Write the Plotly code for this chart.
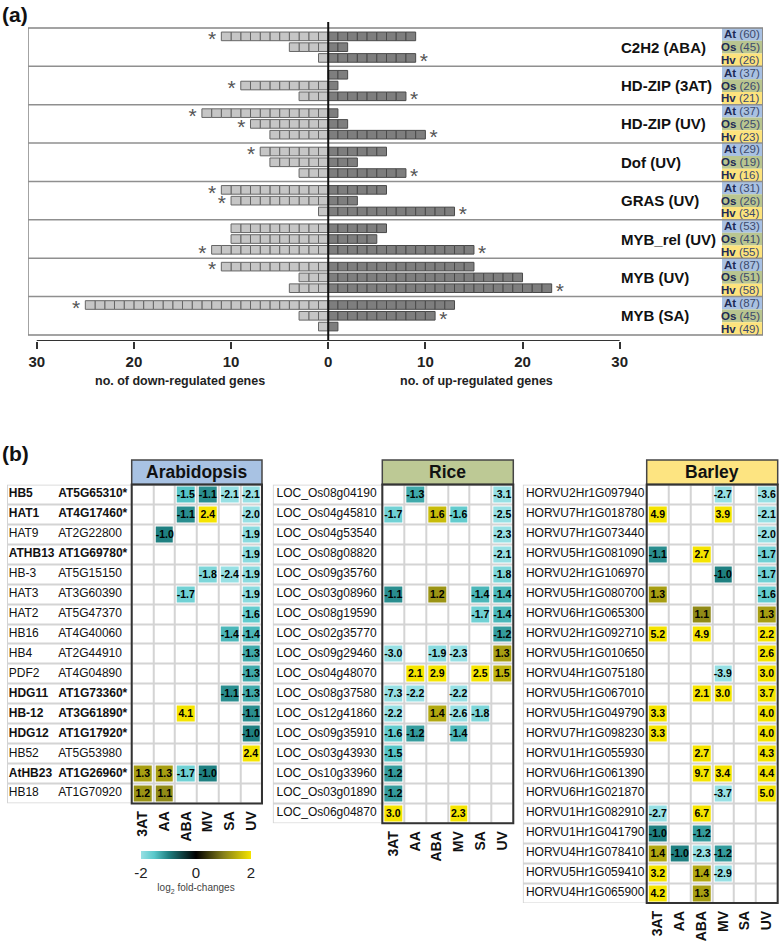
import plotly.graph_objects as go

W, H = 780, 941
SANS = "Liberation Sans, Arial, Helvetica, sans-serif"
NARROW = "Liberation Sans Narrow, Arial Narrow, Liberation Sans, Arial, sans-serif"

# ---------------- panel (a) data ----------------
families = ["C2H2 (ABA)", "HD-ZIP (3AT)", "HD-ZIP (UV)", "Dof (UV)",
            "GRAS (UV)", "MYB_rel (UV)", "MYB (UV)", "MYB (SA)"]
species = ["At", "Os", "Hv"]
species_colors = ["#a9c1e2", "#b9c590", "#fde37d"]

down_at = [11, 0, 13, 7, 11, 10, 11, 25]
down_os = [4, 9, 8, 6, 10, 10, 3, 3]
down_hv = [1, 3, 6, 3, 1, 12, 4, 1]
up_at = [9, 2, 1, 6, 6, 6, 15, 13]
up_os = [2, 1, 2, 3, 3, 5, 20, 11]
up_hv = [9, 8, 10, 8, 13, 15, 23, 1]

down_star_at = [1, 0, 1, 1, 1, 0, 1, 1]
down_star_os = [0, 1, 1, 0, 1, 0, 0, 0]
down_star_hv = [0, 0, 0, 0, 0, 1, 0, 0]
up_star_at = [0, 0, 0, 0, 0, 0, 0, 0]
up_star_os = [0, 0, 0, 0, 0, 0, 0, 1]
up_star_hv = [1, 1, 1, 1, 1, 1, 1, 0]

total_at = [60, 37, 37, 29, 31, 53, 87, 87]
total_os = [45, 26, 25, 19, 26, 41, 51, 45]
total_hv = [26, 21, 23, 16, 34, 55, 58, 49]

axis_ticks = [-30, -20, -10, 0, 10, 20, 30]
axis_tick_labels = ["30", "20", "10", "0", "10", "20", "30"]

# ---------------- panel (b) data ----------------
conditions = ["3AT", "AA", "ABA", "MV", "SA", "UV"]
N = None

at_genes = ["HB5", "HAT1", "HAT9", "ATHB13", "HB-3", "HAT3", "HAT2", "HB16",
            "HB4", "PDF2", "HDG11", "HB-12", "HDG12", "HB52", "AtHB23", "HB18"]
at_loci = ["AT5G65310*", "AT4G17460*", "AT2G22800", "AT1G69780*", "AT5G15150",
           "AT3G60390", "AT5G47370", "AT4G40060", "AT2G44910", "AT4G04890",
           "AT1G73360*", "AT3G61890*", "AT1G17920*", "AT5G53980", "AT1G26960*",
           "AT1G70920"]
at_vals = [
    [N, N, -1.5, -1.1, -2.1, -2.1],
    [N, N, -1.1, 2.4, N, -2.0],
    [N, -1.0, N, N, N, -1.9],
    [N, N, N, N, N, -1.9],
    [N, N, N, -1.8, -2.4, -1.9],
    [N, N, -1.7, N, N, -1.9],
    [N, N, N, N, N, -1.6],
    [N, N, N, N, -1.4, -1.4],
    [N, N, N, N, N, -1.3],
    [N, N, N, N, N, -1.3],
    [N, N, N, N, -1.1, -1.3],
    [N, N, 4.1, N, N, -1.1],
    [N, N, N, N, N, -1.0],
    [N, N, N, N, N, 2.4],
    [1.3, 1.3, -1.7, -1.0, N, N],
    [1.2, 1.1, N, N, N, N],
]

os_loci = ["LOC_Os08g04190", "LOC_Os04g45810", "LOC_Os04g53540", "LOC_Os08g08820",
           "LOC_Os09g35760", "LOC_Os03g08960", "LOC_Os08g19590", "LOC_Os02g35770",
           "LOC_Os09g29460", "LOC_Os04g48070", "LOC_Os08g37580", "LOC_Os12g41860",
           "LOC_Os09g35910", "LOC_Os03g43930", "LOC_Os10g33960", "LOC_Os03g01890",
           "LOC_Os06g04870"]
os_vals = [
    [N, -1.3, N, N, N, -3.1],
    [-1.7, N, 1.6, -1.6, N, -2.5],
    [N, N, N, N, N, -2.3],
    [N, N, N, N, N, -2.1],
    [N, N, N, N, N, -1.8],
    [-1.1, N, 1.2, N, -1.4, -1.4],
    [N, N, N, N, -1.7, -1.4],
    [N, N, N, N, N, -1.2],
    [-3.0, N, -1.9, -2.3, N, 1.3],
    [N, 2.1, 2.9, N, 2.5, 1.5],
    [-7.3, -2.2, N, -2.2, N, N],
    [-2.2, N, 1.4, -2.6, -1.8, N],
    [-1.6, -1.2, N, -1.4, N, N],
    [-1.5, N, N, N, N, N],
    [-1.2, N, N, N, N, N],
    [-1.2, N, N, N, N, N],
    [3.0, N, N, 2.3, N, N],
]

hv_loci = ["HORVU2Hr1G097940", "HORVU7Hr1G018780", "HORVU7Hr1G073440",
           "HORVU5Hr1G081090", "HORVU2Hr1G106970", "HORVU5Hr1G080700",
           "HORVU6Hr1G065300", "HORVU2Hr1G092710", "HORVU5Hr1G010650",
           "HORVU4Hr1G075180", "HORVU5Hr1G067010", "HORVU5Hr1G049790",
           "HORVU7Hr1G098230", "HORVU1Hr1G055930", "HORVU6Hr1G061390",
           "HORVU6Hr1G021870", "HORVU1Hr1G082910", "HORVU1Hr1G041790",
           "HORVU4Hr1G078410", "HORVU5Hr1G059410", "HORVU4Hr1G065900"]
hv_vals = [
    [N, N, N, -2.7, N, -3.6],
    [4.9, N, N, 3.9, N, -2.1],
    [N, N, N, N, N, -2.0],
    [-1.1, N, 2.7, N, N, -1.7],
    [N, N, N, -1.0, N, -1.7],
    [1.3, N, N, N, N, -1.6],
    [N, N, 1.1, N, N, 1.3],
    [5.2, N, 4.9, N, N, 2.2],
    [N, N, N, N, N, 2.6],
    [N, N, N, -3.9, N, 3.0],
    [N, N, 2.1, 3.0, N, 3.7],
    [3.3, N, N, N, N, 4.0],
    [3.3, N, N, N, N, 4.0],
    [N, N, 2.7, N, N, 4.3],
    [N, N, 9.7, 3.4, N, 4.4],
    [N, N, N, -3.7, N, 5.0],
    [-2.7, N, 6.7, N, N, N],
    [-1.0, N, -1.2, N, N, N],
    [1.4, -1.0, -2.3, -1.2, N, N],
    [3.2, N, 1.4, -2.9, N, N],
    [4.2, N, 1.3, N, N, N],
]

colorscale = [[0.0, "#97e0e4"], [0.12, "#58c8ca"], [0.25, "#1f8081"],
              [0.5, "#000000"], [0.75, "#85801a"], [1.0, "#f5e400"]]

# ---------------- helpers ----------------
def dx(a, b):
    return [a / W, b / W]

def dy(top, bottom):
    return [1 - bottom / H, 1 - top / H]

fig = go.Figure()
shapes = []
annotations = []

# ================= panel (a) =================
G = 3.56          # group height in row units
PAD = 0.78
def row_y(i, j):
    return i * G + PAD + j

downs = [down_at, down_os, down_hv]
ups = [up_at, up_os, up_hv]
dstars = [down_star_at, down_star_os, down_star_hv]
ustars = [up_star_at, up_star_os, up_star_hv]
totals = [total_at, total_os, total_hv]

d_base, d_y, u_base, u_y = [], [], [], []
sx, sy = [], []
for i in range(len(families)):
    for j in range(3):
        yy = row_y(i, j)
        for k in range(downs[j][i]):
            d_base.append(-(k + 1)); d_y.append(yy)
        for k in range(ups[j][i]):
            u_base.append(k); u_y.append(yy)
        if dstars[j][i]:
            sx.append(-(downs[j][i] + 0.95)); sy.append(yy + 0.42)
        if ustars[j][i]:
            sx.append(ups[j][i] + 0.85); sy.append(yy + 0.42)

fig.add_trace(go.Bar(orientation="h", x=[1] * len(d_base), base=d_base, y=d_y,
                     width=0.8, marker=dict(color="#c6c6c6", line=dict(color="#666666", width=1)),
                     hoverinfo="skip", xaxis="x", yaxis="y"))
fig.add_trace(go.Bar(orientation="h", x=[1] * len(u_base), base=u_base, y=u_y,
                     width=0.8, marker=dict(color="#7e7e7e", line=dict(color="#4a4a4a", width=1)),
                     hoverinfo="skip", xaxis="x", yaxis="y"))
fig.add_trace(go.Scatter(x=sx, y=sy, mode="text", text=["*"] * len(sx),
                         textfont=dict(family=SANS, size=21, color="#555555"),
                         textposition="middle center", hoverinfo="skip",
                         cliponaxis=False, xaxis="x", yaxis="y"))

XL, XR = -30.9, 44.75
BLOCK_X0 = 40.53
LABEL_X = 29.95
ybot = len(families) * G
y_axis_line = ybot + 0.55
y_top_line = -0.56

shapes.append(dict(type="rect", xref="x", yref="y", x0=XL, x1=XR, y0=0, y1=ybot,
                   line=dict(color="#858585", width=1.5), layer="above"))
for i in range(1, len(families)):
    shapes.append(dict(type="line", xref="x", yref="y", x0=XL, x1=XR, y0=i * G, y1=i * G,
                       line=dict(color="#8f8f8f", width=1.5), layer="above"))
for i in range(len(families)):
    annotations.append(dict(xref="x", yref="y", x=LABEL_X, y=i * G + G / 2,
                            text="<b>%s</b>" % families[i], showarrow=False,
                            xanchor="left", yanchor="middle",
                            font=dict(family=SANS, size=15, color="#111111")))
    for j in range(3):
        y0 = i * G + j * G / 3
        shapes.append(dict(type="rect", xref="x", yref="y", x0=BLOCK_X0, x1=XR,
                           y0=y0, y1=y0 + G / 3, fillcolor=species_colors[j],
                           line=dict(width=0), layer="below"))
        annotations.append(dict(xref="x", yref="y", x=XR - 0.1, y=y0 + G / 6,
                                text="<b><span style='color:#1d2a55'>%s</span></b>"
                                     "<span style='color:#3c4a6c'> (%d)</span>"
                                     % (species[j], totals[j][i]),
                                showarrow=False, xanchor="right", yanchor="middle",
                                font=dict(family=SANS, size=11.5)))
# right edge of label column
shapes.append(dict(type="line", xref="x", yref="y", x0=XR, x1=XR, y0=0, y1=ybot,
                   line=dict(color="#8a8a8a", width=1.5), layer="above"))
# zero line and bottom axis
shapes.append(dict(type="line", xref="x", yref="y", x0=0, x1=0, y0=y_top_line, y1=y_axis_line,
                   line=dict(color="#111111", width=2), layer="above"))
shapes.append(dict(type="line", xref="x", yref="y", x0=axis_ticks[0], x1=axis_ticks[-1],
                   y0=y_axis_line, y1=y_axis_line,
                   line=dict(color="#333333", width=2), layer="above"))

annotations += [
    dict(xref="paper", yref="paper", x=0.0, y=1 - 1 / H, text="<b>(a)</b>", showarrow=False,
         xanchor="left", yanchor="top", font=dict(family=SANS, size=21, color="#111")),
    dict(xref="paper", yref="paper", x=0.0, y=1 - 441 / H, text="<b>(b)</b>", showarrow=False,
         xanchor="left", yanchor="top", font=dict(family=SANS, size=21, color="#111")),
    dict(xref="paper", yref="paper", x=180 / W, y=1 - 382 / H,
         text="<b>no. of down-regulated genes</b>", showarrow=False,
         xanchor="center", yanchor="middle", font=dict(family=SANS, size=12.5, color="#222")),
    dict(xref="paper", yref="paper", x=476 / W, y=1 - 382 / H,
         text="<b>no. of up-regulated genes</b>", showarrow=False,
         xanchor="center", yanchor="middle", font=dict(family=SANS, size=12.5, color="#222")),
]

layout_axes = dict(
    xaxis=dict(domain=dx(28, 763), range=[XL, XR], anchor="y", showgrid=False, zeroline=False,
               showline=False, tickvals=axis_ticks,
               ticktext=["<b>%s</b>" % t for t in axis_tick_labels],
               ticks="outside", ticklen=7, tickwidth=2, tickcolor="#333333",
               tickfont=dict(family=SANS, size=15, color="#222")),
    yaxis=dict(domain=dy(22, 342), range=[y_axis_line, y_top_line], anchor="x",
               visible=False, showgrid=False, zeroline=False),
)

# ================= panel (b) =================
ROW_TOP = 486.0
ROW_H = 20.0
HEAD_H = 24.5

tables = [
    dict(title="Arabidopsis", genes=at_genes, loci=at_loci, vals=at_vals, head="#a8c2e3",
         lab=(7.0, 131.7), heat=(131.7, 262.0), gene_x=0.014, locus_x=0.41),
    dict(title="Rice", genes=None, loci=os_loci, vals=os_vals, head="#bdc995",
         lab=(272.7, 382.3), heat=(382.3, 513.3), gene_x=None, locus_x=0.035),
    dict(title="Barley", genes=None, loci=hv_loci, vals=hv_vals, head="#fde481",
         lab=(522.7, 646.7), heat=(646.7, 777.7), gene_x=None, locus_x=0.026),
]

def solid(c):
    return [[0, c], [1, c]]

for t_i, t in enumerate(tables):
    n = len(t["loci"])
    rows = list(range(n))
    la = 2 + 2 * t_i
    ha = la + 1
    lx, ly = "x%d" % la, "y%d" % la
    hx, hy = "x%d" % ha, "y%d" % ha
    bottom = ROW_TOP + n * ROW_H
    yr = [n - 0.5, -0.5]

    layout_axes["xaxis%d" % la] = dict(domain=dx(*t["lab"]), range=[0, 1], anchor=ly,
                                       visible=False, showgrid=False, zeroline=False)
    layout_axes["yaxis%d" % la] = dict(domain=dy(ROW_TOP, bottom), range=yr, anchor=lx,
                                       visible=False, showgrid=False, zeroline=False)
    layout_axes["xaxis%d" % ha] = dict(domain=dx(*t["heat"]), range=[-0.5, len(conditions) - 0.5],
                                       anchor=hy, showgrid=False, zeroline=False, showline=False,
                                       tickvals=list(range(len(conditions))),
                                       ticktext=["<b>%s</b>" % c for c in conditions],
                                       tickangle=-90, ticks="", ticklabelstandoff=4,
                                       tickfont=dict(family=SANS, size=14, color="#111"))
    layout_axes["yaxis%d" % ha] = dict(domain=dy(ROW_TOP, bottom), range=yr, anchor=hx,
                                       visible=False, showgrid=False, zeroline=False)

    # label table grid
    fig.add_trace(go.Heatmap(z=[[0] for _ in rows], x=[0, 1], y=rows, colorscale=solid("#d4d4d4"),
                             zmin=0, zmax=1, showscale=False, hoverinfo="skip", xaxis=lx, yaxis=ly))
    fig.add_trace(go.Heatmap(z=[[0] for _ in rows], x=[0, 1], y=rows, colorscale=solid("#ffffff"),
                             zmin=0, zmax=1, showscale=False, ygap=2, xgap=2,
                             hoverinfo="skip", xaxis=lx, yaxis=ly))
    bold = [l.endswith("*") for l in t["loci"]]
    if t["genes"] is not None:
        fig.add_trace(go.Scatter(x=[t["gene_x"]] * n, y=rows, mode="text",
                                 text=[("<b>%s</b>" % g) if b else g for g, b in zip(t["genes"], bold)],
                                 textposition="middle right", cliponaxis=False,
                                 textfont=dict(family=SANS, size=12, color="#111"),
                                 hoverinfo="skip", xaxis=lx, yaxis=ly))
    fig.add_trace(go.Scatter(x=[t["locus_x"]] * n, y=rows, mode="text",
                             text=[("<b>%s</b>" % g) if b else g for g, b in zip(t["loci"], bold)],
                             textposition="middle right", cliponaxis=False,
                             textfont=dict(family=SANS, size=12, color="#111"),
                             hoverinfo="skip", xaxis=lx, yaxis=ly))

    # heat grid
    cols = list(range(len(conditions)))
    zc = [[0] * len(conditions) for _ in rows]
    fig.add_trace(go.Heatmap(z=zc, x=cols, y=rows, colorscale=solid("#d4d4d4"), zmin=0, zmax=1,
                             showscale=False, hoverinfo="skip", xaxis=hx, yaxis=hy))
    fig.add_trace(go.Heatmap(z=zc, x=cols, y=rows, colorscale=solid("#ffffff"), zmin=0, zmax=1,
                             xgap=2, ygap=2, showscale=False, hoverinfo="skip", xaxis=hx, yaxis=hy))
    txt = [["" if v is None else "<b>%.1f</b>" % v for v in r] for r in t["vals"]]
    cb = dict(orientation="h", x=196 / W, xanchor="center", y=1 - 854 / H, yanchor="top",
              len=110, lenmode="pixels", thickness=8, thicknessmode="pixels",
              outlinewidth=0, xpad=0, ypad=0, tickvals=[-2, 0, 2], ticktext=["-2", "0", "2"],
              ticks="", tickfont=dict(family=SANS, size=15, color="#222"),
              title=dict(text="log<sub>2</sub> fold-changes", side="bottom",
                         font=dict(family=SANS, size=10, color="#444")))
    fig.add_trace(go.Heatmap(z=t["vals"], x=cols, y=rows, colorscale=colorscale, zmin=-2, zmax=2,
                             xgap=4, ygap=4, text=txt, texttemplate="%{text}",
                             textfont=dict(family=NARROW, size=10.5, color="#000"),
                             showscale=(t_i == 0), colorbar=cb, hoverinfo="skip",
                             xaxis=hx, yaxis=hy))

    # header box and heat border
    hx0, hx1 = t["heat"]
    shapes.append(dict(type="rect", xref="paper", yref="paper", x0=hx0 / W, x1=hx1 / W,
                       y0=1 - ROW_TOP / H, y1=1 - (ROW_TOP - HEAD_H) / H,
                       fillcolor=t["head"], line=dict(color="#454545", width=1.5), layer="above"))
    shapes.append(dict(type="rect", xref="paper", yref="paper", x0=hx0 / W, x1=hx1 / W,
                       y0=1 - bottom / H, y1=1 - ROW_TOP / H,
                       line=dict(color="#333333", width=2), layer="above"))
    annotations.append(dict(xref="paper", yref="paper", x=(hx0 + hx1) / 2 / W,
                            y=1 - (ROW_TOP - HEAD_H / 2) / H, text="<b>%s</b>" % t["title"],
                            showarrow=False, xanchor="center", yanchor="middle",
                            font=dict(family=SANS, size=17.5, color="#111")))

fig.update_layout(
    width=W, height=H, margin=dict(l=0, r=0, t=0, b=0),
    paper_bgcolor="white", plot_bgcolor="white", showlegend=False,
    barmode="overlay", shapes=shapes, annotations=annotations,
    font=dict(family=SANS), **layout_axes,
)

fig.write_html("out.html", config={"displayModeBar": False},
               post_script="document.body.style.margin='0px';")
